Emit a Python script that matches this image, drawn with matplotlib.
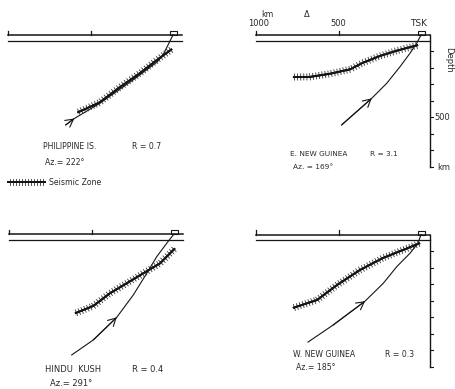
import matplotlib
matplotlib.use('Agg')
import matplotlib.pyplot as plt
import matplotlib.patheffects as pe
from matplotlib.patches import Rectangle

# Distances (km from TSK, growing leftwards) and depths (km) of each section
phil_zone_dist = [579, 445, 323, 201, 98, 6]
phil_zone_depth = [470, 409, 317, 232, 152, 85]
phil_ray_dist = [650, 598, 445, 244, 98, 61, 0]
phil_ray_depth = [545, 506, 415, 274, 165, 122, 0]

eng_zone_dist = [776, 673, 552, 430, 352, 248, 147, 56, 18]
eng_zone_depth = [255, 254, 235, 208, 168, 127, 95, 71, 61]
eng_ray_dist = [481, 299, 208, 127, 67, 26, 0]
eng_ray_depth = [545, 384, 293, 192, 111, 50, 0]

hk_zone_dist = [600, 489, 388, 287, 186, 85, -6]
hk_zone_depth = [481, 436, 359, 299, 238, 178, 87]
hk_ray_dist = [620, 489, 347, 247, 165, 105, 44, 0]
hk_ray_depth = [733, 642, 505, 370, 238, 138, 56, 0]

wng_zone_dist = [776, 630, 509, 370, 230, 109, 6]
wng_zone_depth = [445, 397, 306, 215, 142, 94, 52]
wng_ray_dist = [685, 533, 339, 228, 147, 67, 18, 0]
wng_ray_depth = [652, 549, 404, 295, 195, 114, 52, 0]

# index of the ray point carrying the direction arrow
phil_arrow, eng_arrow, hk_arrow, wng_arrow = 1, 1, 2, 2

titles = ['PHILIPPINE IS.', 'E. NEW GUINEA', 'HINDU  KUSH', 'W. NEW GUINEA']
ratios = ['R = 0.7', 'R = 3.1', 'R = 0.4', 'R = 0.3']
azimuths = ['Az.= 222°', 'Az. = 169°', 'Az.= 291°', 'Az.= 185°']
label_sizes = [5.6, 5.3, 6.0, 5.6]

depth_ticks = [100, 200, 300, 400, 500, 600, 700, 800]

W, H = 456, 389
K = 0.165          # pixels per km
X0, X1 = 1060, -80
Y0, Y1 = 960, -150
INK = '#151515'
TXT = '#2a2a2a'

plt.rcParams['font.family'] = ['DejaVu Sans']
fig = plt.figure(figsize=(W / 100, H / 100), dpi=100)


def panel(ox, oy):
    left = ox - X0 * K
    bottom = oy + Y0 * K
    ax = fig.add_axes([left / W, 1 - bottom / H, (X0 - X1) * K / W, (Y0 - Y1) * K / H])
    ax.set_xlim(X0, X1)
    ax.set_ylim(Y0, Y1)
    ax.axis('off')
    ax.patch.set_alpha(0)
    return ax


def surface(ax, right_end):
    ax.plot([1000, right_end], [0, 0], color=INK, lw=1.1)
    ax.plot([1000, right_end], [35, 35], color=INK, lw=0.9)
    for d in (1000, 500):
        ax.plot([d, d], [0, -25], color=INK, lw=0.9)
    ax.add_patch(Rectangle((20, -22), -45, 22, fill=False, ec=INK, lw=0.8))


def hatch(length):
    return [pe.withTickedStroke(angle=a, spacing=2.2, length=length, linewidth=0.6,
                                foreground='#333333') for a in (90, -90)] + [pe.Normal()]


def zone(ax, dist, depth):
    ax.plot(dist, depth, color=INK, lw=1.3, solid_capstyle='butt',
            path_effects=hatch(1.15))


def ray(ax, dist, depth, i):
    ax.plot(dist, depth, color=INK, lw=0.8)
    if i == 0:
        back = (2 * dist[i] - dist[i + 1], 2 * depth[i] - depth[i + 1])
    else:
        back = (dist[i - 1], depth[i - 1])
    ax.annotate('', xy=(dist[i], depth[i]), xytext=back,
                arrowprops=dict(arrowstyle='->, head_length=0.55, head_width=0.3',
                                color=INK, lw=0.8, shrinkA=0, shrinkB=0,
                                mutation_scale=10))


def depth_axis(ax):
    ax.plot([-55, -55], [0, 800], color=INK, lw=1.0)
    for t in depth_ticks:
        ax.plot([-55, -75], [t, t], color=INK, lw=0.8)


def labels(ax, n, d0, d1, d2, y0, y1):
    kw = dict(fontsize=label_sizes[n], color=TXT, va='center', ha='left')
    ax.text(d0, y0, titles[n], **kw)
    ax.text(d1, y0, ratios[n], **kw)
    ax.text(d2, y1, azimuths[n], **kw)


# Philippine Is.
ax = panel(173, 35)
surface(ax, -55)
ray(ax, phil_ray_dist, phil_ray_depth, phil_arrow)
zone(ax, phil_zone_dist, phil_zone_depth)
labels(ax, 0, 788, 248, 776, 673, 773)
ax.plot([1000, 776], [891, 891], color=INK, lw=1.3, clip_on=False, path_effects=hatch(0.9))
ax.text(750, 891, 'Seismic Zone', fontsize=5.6, color=TXT, va='center', ha='left')

# E. New Guinea
ax = panel(421, 35)
surface(ax, -55)
depth_axis(ax)
ray(ax, eng_ray_dist, eng_ray_depth, eng_arrow)
zone(ax, eng_zone_dist, eng_zone_depth)
labels(ax, 1, 794, 309, 776, 721, 797)
ax.text(933, -124, 'km', fontsize=5.6, color=TXT, ha='center', va='center')
ax.text(985, -68, '1000', fontsize=6, color=TXT, ha='center', va='center')
ax.text(694, -124, 'Δ', fontsize=6, color=TXT, ha='center', va='center')
ax.text(500, -68, '500', fontsize=6, color=TXT, ha='center', va='center')
ax.text(15, -68, 'TSK', fontsize=6.5, color=TXT, ha='center', va='center')
ax.text(-170, 150, 'Depth', fontsize=6, color=TXT, ha='center', va='center', rotation=270)
ax.text(-80, 503, '500', fontsize=6, color=TXT, ha='left', va='center')
ax.text(-100, 803, 'km', fontsize=6, color=TXT, ha='left', va='center')

# Hindu Kush
ax = panel(174, 234)
surface(ax, -55)
ray(ax, hk_ray_dist, hk_ray_depth, hk_arrow)
zone(ax, hk_zone_dist, hk_zone_depth)
labels(ax, 2, 782, 255, 752, 824, 909)

# W. New Guinea
ax = panel(421, 234.5)
surface(ax, -55)
depth_axis(ax)
ray(ax, wng_ray_dist, wng_ray_depth, wng_arrow)
zone(ax, wng_zone_dist, wng_zone_depth)
labels(ax, 3, 776, 218, 758, 730, 806)

fig.savefig('out.png', dpi=100)
